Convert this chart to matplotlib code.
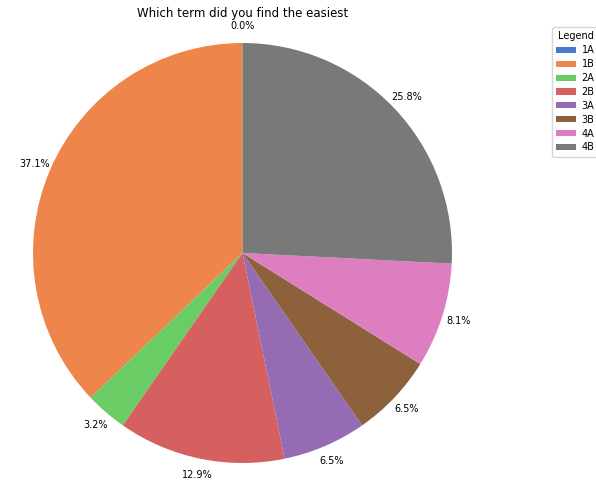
import matplotlib
matplotlib.use("Agg")
from matplotlib import pyplot as plt
import seaborn as sns

terms = ['1A', '1B', '2A', '2B', '3A', '3B', '4A', '4B']
counts = [0, 23, 2, 8, 4, 4, 5, 16]
colors = sns.color_palette('muted', 8)

fig = plt.figure(figsize=(5.96, 4.82), dpi=100)
ax = fig.add_axes([33 / 596, 19 / 482, 419 / 596, 420 / 482])

wedges, texts, autotexts = ax.pie(counts, colors=colors, startangle=90,
                                  autopct='%1.1f%%', pctdistance=1.08,
                                  textprops={'fontsize': 7})
ax.set_xlim(-1, 1)
ax.set_ylim(-1, 1)
ax.set_aspect('auto')
for w in wedges:
    w.set_clip_on(False)
for t in autotexts:
    t.set_clip_on(False)

fig.text(243 / 596, 1 - 14 / 482, 'Which term did you find the easiest',
         ha='center', va='center', fontsize=8.5)

fig.legend(wedges, terms, title='Legend', loc='upper left',
           bbox_to_anchor=(552 / 596, 1 - 27 / 482), borderaxespad=0,
           fontsize=7, title_fontsize=7, handlelength=2.0, handleheight=0.6,
           handletextpad=0.6, labelspacing=0.4, borderpad=0.45)

fig.savefig('out.png', dpi=100)
